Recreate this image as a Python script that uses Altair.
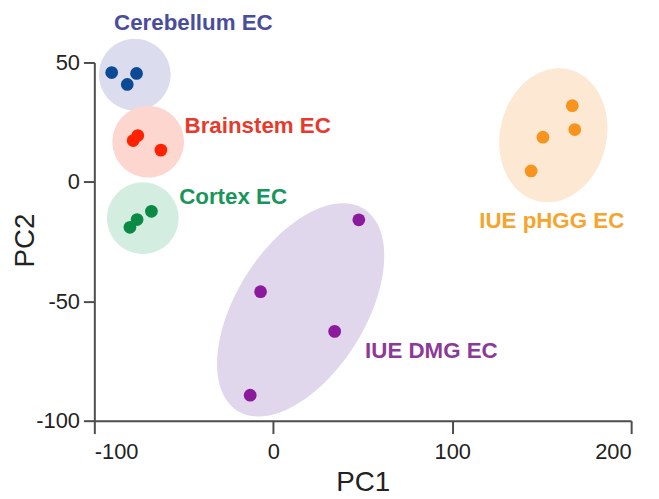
import numpy as np
import pandas as pd
import altair as alt

groups = ["Cerebellum EC", "Brainstem EC", "Cortex EC", "IUE DMG EC", "IUE pHGG EC"]
dot_colors = ["#0d4a94", "#ff2200", "#0b8a45", "#8c1a9c", "#f7941d"]
fill_colors = ["#dcdcef", "#fcd6cf", "#d3eee1", "#e1d7ec", "#fde8d3"]
label_colors = ["#4a4c9c", "#e8392a", "#18955a", "#8c3a98", "#f5a52d"]

# samples
sample_group = (["Cerebellum EC"] * 3 + ["Brainstem EC"] * 3 + ["Cortex EC"] * 3
                + ["IUE DMG EC"] * 4 + ["IUE pHGG EC"] * 4)
pc1 = [-90.3, -76.4, -81.6,
       -78.3, -75.7, -62.8,
       -80.1, -76.1, -68.1,
       47.8, -7.1, 34.3, -12.9,
       167.1, 168.5, 150.7, 144.1]
pc2 = [45.8, 45.4, 40.8,
       17.3, 19.4, 13.3,
       -19.0, -15.8, -12.3,
       -15.9, -46.0, -62.6, -89.3,
       31.9, 21.9, 18.7, 4.6]

# group ellipses: centre and two conjugate semi-diameters (data units)
ell_cx = [-77.4, -69.9, -72.9, 15.3, 156.5]
ell_cy = [44.9, 16.8, -15.2, -53.6, 19.5]
ell_ux = [20.0, 20.0, 20.0, 35.3, 8.5]
ell_uy = [0.0, 0.0, 0.0, 42.3, 27.6]
ell_vx = [0.0, 0.0, 0.0, 30.6, 29.0]
ell_vy = [15.0, 15.0, 15.0, -14.3, -5.0]

# group labels
label_x = [-89.0, -49.6, -52.6, 51.3, 115.1]
label_y = [66.5, 23.3, -6.2, -70.8, -16.2]

x_ticks = [-100, 0, 100, 200]
y_ticks = [-100, -50, 0, 50]

pts = pd.DataFrame({"group": sample_group, "PC1": pc1, "PC2": pc2})

t = np.linspace(0, 2 * np.pi, 121)
rows = []
for i, g in enumerate(groups):
    for k, tt in enumerate(t):
        rows.append({
            "group": g, "idx": k,
            "PC1": ell_cx[i] + ell_ux[i] * np.cos(tt) + ell_vx[i] * np.sin(tt),
            "PC2": ell_cy[i] + ell_uy[i] * np.cos(tt) + ell_vy[i] * np.sin(tt),
        })
ell = pd.DataFrame(rows)
labs = pd.DataFrame({"group": groups, "PC1": label_x, "PC2": label_y})

xscale = alt.Scale(domain=[-100, 200], nice=False, zero=False)
yscale = alt.Scale(domain=[-100, 50], nice=False, zero=False)

common = dict(grid=False, labelFontSize=22, titleFontSize=28, titleFontWeight="normal",
              labelColor="#222222", titleColor="#222222", domainColor="#4d4d4d",
              tickColor="#4d4d4d", domainWidth=2, tickWidth=2,
              labelFont="Liberation Sans", titleFont="Liberation Sans",
              labelExpr="'' + datum.value")

xaxis = alt.Axis(values=x_ticks, title="PC1", tickSize=13, labelPadding=8,
                 titlePadding=6, **common)
yaxis = alt.Axis(values=y_ticks, title="PC2", tickSize=11, labelPadding=4,
                 titleX=-69, titleY=179, titleAngle=270, titleAlign="center",
                 titleBaseline="middle", **common)

ellipses = alt.Chart(ell).mark_line(strokeWidth=0, fillOpacity=1).encode(
    x=alt.X("PC1:Q", scale=xscale, axis=xaxis),
    y=alt.Y("PC2:Q", scale=yscale, axis=yaxis),
    order="idx:Q",
    detail="group:N",
    fill=alt.Fill("group:N", scale=alt.Scale(domain=groups, range=fill_colors), legend=None),
)

points = alt.Chart(pts).mark_circle(size=165, opacity=1).encode(
    x=alt.X("PC1:Q", scale=xscale),
    y=alt.Y("PC2:Q", scale=yscale),
    color=alt.Color("group:N", scale=alt.Scale(domain=groups, range=dot_colors), legend=None),
)

labels = alt.Chart(labs).mark_text(align="left", baseline="middle", fontSize=22.5,
                                    fontWeight="bold", font="Liberation Sans").encode(
    x=alt.X("PC1:Q", scale=xscale),
    y=alt.Y("PC2:Q", scale=yscale),
    text="group:N",
    color=alt.Color("group:N", scale=alt.Scale(domain=groups, range=label_colors), legend=None),
)

chart = alt.layer(ellipses, points, labels).resolve_scale(color="independent").properties(
    width=541, height=361,
    autosize=alt.AutoSizeParams(type="none"),
    padding={"left": 87, "top": 53, "right": 20, "bottom": 75},
).configure_view(stroke=None)

chart.save("out.html", embed_options={"renderer": "svg", "actions": False})
